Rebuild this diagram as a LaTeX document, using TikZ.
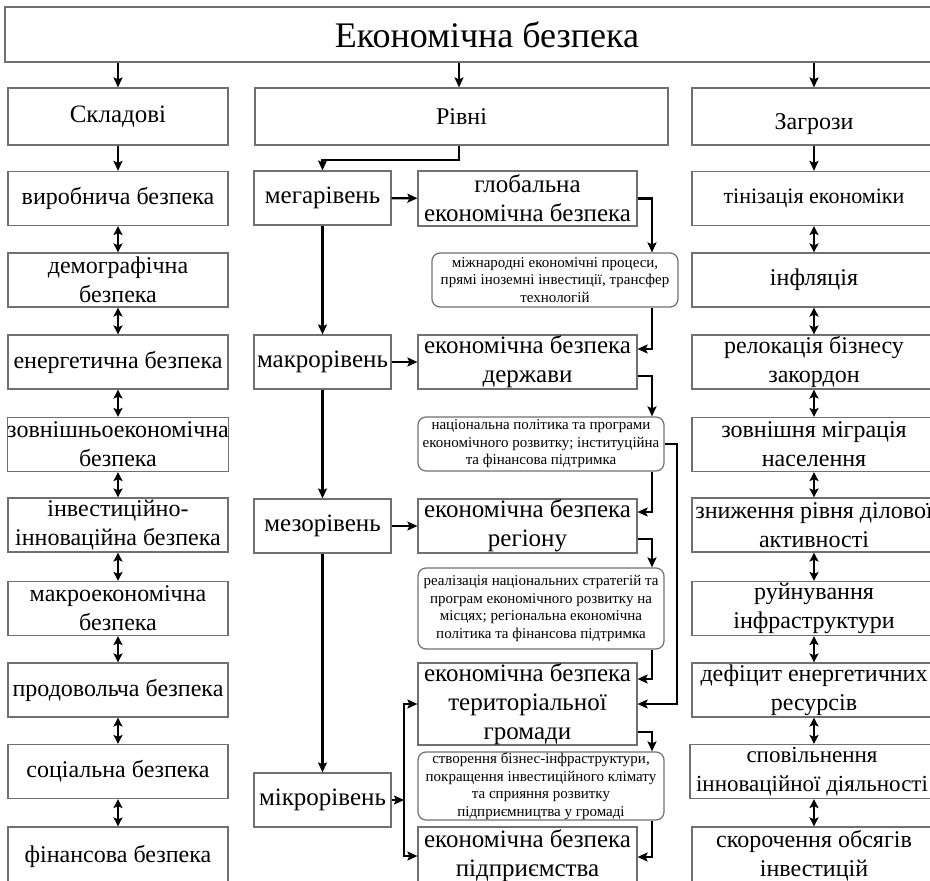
\documentclass[tikz,border=0pt]{standalone}
\usepackage{fontspec}
\setmainfont{Liberation Serif}
\usetikzlibrary{arrows.meta}
\definecolor{framegray}{RGB}{112,112,112}

\begin{document}
\begin{tikzpicture}[x=1pt,y=-1pt,line width=2.2pt,-{Stealth[length=10pt,width=9pt,inset=2pt]}]
\tikzstyle{box}=[draw=framegray,line width=1.2pt,rectangle,inner sep=0pt,align=center,minimum height=54pt,font=\fontsize{24}{29}\selectfont]
\tikzstyle{side box}=[box,minimum width=220pt]
\tikzstyle{threat box}=[box,minimum width=244pt]
\tikzstyle{level box}=[box,minimum width=137pt,font=\fontsize{25}{29}\selectfont]
\tikzstyle{safety box}=[box,minimum width=219pt,font=\fontsize{25}{29}\selectfont]
\tikzstyle{note}=[draw=framegray,line width=1.2pt,rounded corners=8pt,inner sep=0pt,align=center,minimum width=246pt,font=\fontsize{15}{17.5}\selectfont]
\tikzstyle{both ways}=[{Stealth[length=9pt,width=9pt,inset=2pt]}-{Stealth[length=9pt,width=9pt,inset=2pt]}]

\useasboundingbox (0,0) rectangle (930,881);
\clip (0,0) rectangle (930,881);

% header rows
\node[box,minimum width=964pt,minimum height=55pt,font=\fontsize{36}{40}\selectfont] (title) at (487,34.5) {Економічна безпека};
\node[side box,minimum height=57pt,font=\fontsize{25}{29}\selectfont] (skl) at (118,116.5) {Складові};
\node[box,minimum width=413pt,minimum height=57pt] (rivni) at (461.5,116.5) {Рівні};
\node[threat box,minimum height=57pt] (threats) at (814,116.5) {\raisebox{-13pt}[0pt][0pt]{Загрози}};

% components
\node[side box] (prod)    at (118,198.5) {виробнича безпека};
\node[side box] (demo)    at (118,280)   {демографічна\\безпека};
\node[side box] (energy)  at (118,362)   {енергетична безпека};
\node[side box] (foreign) at (118,444.5) {зовнішньоекономічна\\безпека};
\node[side box] (invest)  at (118,525)   {інвестиційно-\\інноваційна безпека};
\node[side box] (macroec) at (118,608.5) {макроекономічна\\безпека};
\node[side box] (food)    at (118,690)   {продовольча безпека};
\node[side box] (social)  at (118,771.5) {соціальна безпека};
\node[side box,minimum height=58pt] (fin) at (118,856) {фінансова безпека};

% threats
\node[threat box,font=\fontsize{22}{29}\selectfont] (shadow) at (814,198.5) {тінізація економіки};
\node[threat box] (infl)    at (814,280)   {інфляція};
\node[threat box] (reloc)   at (814,362)   {релокація бізнесу\\закордон};
\node[threat box] (migr)    at (814,444.5) {зовнішня міграція\\населення};
\node[threat box] (activ)   at (814,525)   {зниження рівня ділової\\активності};
\node[threat box] (infra)   at (814,608.5) {руйнування\\інфраструктури};
\node[threat box] (deficit) at (814,690)   {дефіцит енергетичних\\ресурсів};
\node[threat box,font=\fontsize{23}{29}\selectfont] (innov) at (812,771.5) {сповільнення\\інноваційної діяльності};
\node[threat box,minimum height=58pt] (invcut) at (814,856) {скорочення обсягів\\інвестицій};

% levels
\node[level box] (mega)  at (322.5,198)   {мегарівень};
\node[level box] (macro) at (322.5,362)   {макрорівень};
\node[level box] (meso)  at (322.5,526)   {мезорівень};
\node[level box] (micro) at (322.5,800)   {мікрорівень};

\node[safety box,minimum height=55pt] (global) at (527.5,198.5) {глобальна\\економічна безпека};
\node[safety box] (state)  at (527.5,362) {економічна безпека\\держави};
\node[safety box] (region) at (527.5,526) {економічна безпека\\регіону};
\node[safety box,minimum height=82pt] (terr) at (527.5,704) {економічна безпека\\територіальної\\громади};
\node[safety box,minimum height=58pt] (firm) at (527.5,856) {економічна безпека\\підприємства};

\node[note,minimum height=54pt] (note1) at (555,280)   {міжнародні економічні процеси,\\прямі іноземні інвестиції, трансфер\\технологій};
\node[note,minimum height=54pt] (note2) at (541,444)   {національна політика та програми\\економічного розвитку; інституційна\\та фінансова підтримка};
\node[note,minimum height=81pt] (note3) at (541,608.5) {реалізація національних стратегій та\\програм економічного розвитку на\\місцях; регіональна економічна\\політика та фінансова підтримка};
\node[note,minimum height=68pt] (note4) at (541,786)   {створення бізнес-інфраструктури,\\покращення інвестиційного клімату\\та сприяння розвитку\\підприємництва у громаді};

\coordinate (rail) at (652,0);
\coordinate (outer) at (677,0);
\coordinate (fork) at (404,800);

% from the title
\draw (title.south -| skl.north) -- (skl.north);
\draw ([xshift=-2.5pt] title.south -| rivni.north) -- ([xshift=-2.5pt] rivni.north);
\draw (title.south -| threats.north) -- (threats.north);
\draw (skl) -- (prod);
\draw (threats) -- (shadow);

% components chain
\draw[both ways] (prod) -- (demo);
\draw[both ways] (demo) -- (energy);
\draw[both ways] (energy) -- (foreign);
\draw[both ways] (foreign) -- (invest);
\draw[both ways] (invest) -- (macroec);
\draw[both ways] (macroec) -- (food);
\draw[both ways] (food) -- (social);
\draw[both ways] (social) -- (fin);

% threats chain
\draw[both ways] (shadow) -- (infl);
\draw[both ways] (infl) -- (reloc);
\draw[both ways] (reloc) -- (migr);
\draw[both ways] (migr) -- (activ);
\draw[both ways] (activ) -- (infra);
\draw[both ways] (infra) -- (deficit);
\draw[both ways] (deficit) -- (innov.north -| deficit.south);
\draw[both ways] (innov.south -| invcut.north) -- (invcut);

% levels
\draw ([xshift=-2.5pt] rivni.south) -- ++(0,14) -| (mega.north);
\draw (mega) -- (macro);
\draw (macro) -- (meso);
\draw (meso) -- (micro);
\draw (mega) -- (global);
\draw (macro) -- (state);
\draw (meso) -- (region);
\draw (micro.east) -- (fork);
\draw (fork) |- (terr.west);
\draw (fork) |- (firm.west);

% right-hand rail
\draw (global.east) -| (rail |- note1.north);
\draw (rail |- note1.south) |- ([yshift=13pt] state.east);
\draw ([yshift=-14pt] state.east) -| (rail |- note2.north);
\draw (rail |- note2.south) |- ([yshift=14pt] region.east);
\draw (note2.east) -| (outer |- terr.east) -- (terr.east);
\draw ([yshift=-13pt] region.east) -| (rail |- note3.north);
\draw (rail |- note3.south) |- ([yshift=25pt] terr.east);
\draw ([yshift=-28pt] terr.east) -| (rail |- note4.north);
\draw (rail |- note4.south) |- ([yshift=-1pt] firm.east);

\end{tikzpicture}
\end{document}
